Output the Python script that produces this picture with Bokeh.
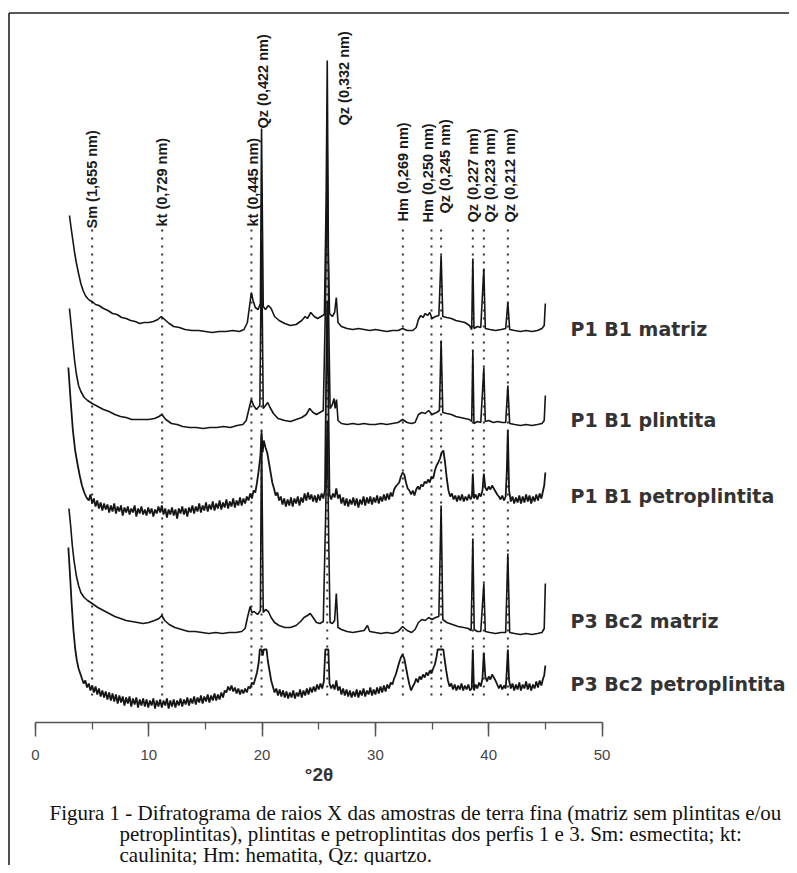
import math
from bokeh.plotting import figure
from bokeh.models import Range1d, LinearAxis, SingleIntervalTicker
from bokeh.core.properties import value
from bokeh.embed import file_html
from bokeh.resources import INLINE

# ---------------- data ----------------
PEAK_LABELS = ["Sm (1,655 nm)", "kt (0,729 nm)", "kt (0,445 nm)", "Qz (0,422 nm)",
               "Qz (0,332 nm)", "Hm (0,269 nm)", "Hm (0,250 nm)", "Qz (0,245 nm)",
               "Qz (0,227 nm)", "Qz (0,223 nm)", "Qz (0,212 nm)"]
PEAK_2THETA = [5.0, 11.18, 19.06, 19.95, 25.75, 32.42, 34.95, 35.8, 38.6, 39.57, 41.69]

SAMPLES = ["P1 B1 matriz", "P1 B1 plintita", "P1 B1 petroplintita",
           "P3 Bc2 matriz", "P3 Bc2 petroplintita"]

T1_X = [3.0, 3.15, 3.3, 3.45, 3.6, 3.8, 4.0, 4.2, 4.4, 4.6,
        4.8, 5.0, 5.3, 5.6, 6.0, 6.4, 6.8, 7.2, 7.6, 8.0,
        8.4, 8.8, 9.2, 9.6, 10.0, 10.4, 10.8, 11.1, 11.4, 11.8,
        12.2, 12.7, 13.2, 13.8, 14.4, 15.0, 15.6, 16.2, 16.8, 17.4,
        18.0, 18.4, 18.7, 18.9, 19.05, 19.2, 19.4, 19.65, 19.85, 19.95,
        20.1, 20.3, 20.55, 20.8, 21.1, 21.5, 22.0, 22.5, 23.0, 23.5,
        23.8, 24.0, 24.3, 24.6, 24.9, 25.2, 25.5, 25.65, 25.75, 25.85,
        25.95, 26.2, 26.4, 26.55, 26.7, 27.0, 27.5, 28.0, 28.5, 29.0,
        29.5, 30.0, 30.5, 31.0, 31.5, 32.0, 32.4, 32.8, 33.3, 33.6,
        33.8, 34.0, 34.2, 34.4, 34.6, 34.8, 35.0, 35.3, 35.6, 35.8,
        35.95, 36.3, 36.7, 37.1, 37.5, 37.9, 38.3, 38.5, 38.6, 38.7,
        39.0, 39.3, 39.57, 39.7, 40.1, 40.6, 41.1, 41.5, 41.69, 41.85,
        42.3, 42.8, 43.3, 43.8, 44.3, 44.7, 44.9, 45.0]
T1_Y = [125, 112, 100, 88, 78, 67, 57, 50, 45, 42,
        40, 39, 36, 35, 32, 30, 27, 26, 23, 22,
        20, 19, 17, 18, 18, 19, 21, 24, 21, 17,
        14, 13, 11, 10, 10, 9, 8, 9, 9, 10,
        9, 11, 18, 35, 48, 40, 33, 31, 37, 212,
        34, 31, 35, 32, 24, 20, 17, 15, 16, 20,
        24, 22, 28, 24, 22, 24, 26, 140, 280, 90,
        27, 24, 28, 43, 18, 14, 12, 11, 12, 11,
        10, 11, 10, 9, 10, 10, 12, 10, 10, 13,
        21, 25, 23, 27, 25, 28, 22, 24, 25, 85,
        24, 23, 22, 20, 19, 18, 15, 11, 82, 12,
        14, 13, 72, 12, 11, 10, 11, 12, 38, 11,
        10, 9, 10, 9, 10, 12, 15, 37]

T2_X = [3.0, 3.15, 3.3, 3.45, 3.6, 3.8, 4.0, 4.3, 4.6, 5.0,
        5.5, 6.0, 6.5, 7.0, 7.5, 8.0, 8.5, 9.0, 9.5, 10.0,
        10.5, 10.9, 11.15, 11.5, 12.0, 12.5, 13.0, 13.6, 14.2, 14.8,
        15.4, 16.0, 16.6, 17.2, 17.8, 18.3, 18.6, 18.85, 19.05, 19.25,
        19.5, 19.8, 19.95, 20.1, 20.3, 20.5, 20.7, 21.0, 21.4, 22.0,
        22.5, 23.0, 23.5, 23.9, 24.2, 24.5, 24.8, 25.1, 25.4, 25.6,
        25.75, 25.88, 26.0, 26.2, 26.35, 26.45, 26.57, 26.7, 27.0, 27.5,
        28.0, 28.5, 29.0, 29.5, 30.0, 30.5, 31.0, 31.5, 32.0, 32.4,
        32.8, 33.2, 33.5, 33.8, 34.1, 34.4, 34.7, 35.0, 35.4, 35.65,
        35.8, 35.95, 36.3, 36.7, 37.1, 37.5, 37.9, 38.3, 38.5, 38.6,
        38.7, 39.0, 39.3, 39.57, 39.7, 40.0, 40.4, 40.8, 41.2, 41.5,
        41.69, 41.85, 42.3, 42.8, 43.3, 43.8, 44.3, 44.7, 44.9, 45.0]
T2_Y = [122, 105, 87, 70, 57, 45, 39, 33, 30, 27,
        24, 21, 19, 16, 14, 13, 11, 11, 11, 11,
        12, 14, 16, 11, 7, 6, 4, 3, 3, 2,
        3, 3, 4, 3, 5, 6, 10, 22, 31, 25,
        21, 25, 190, 22, 25, 28, 23, 17, 12, 10,
        9, 11, 13, 16, 22, 18, 16, 18, 20, 130,
        280, 110, 22, 26, 32, 22, 31, 10, 7, 6,
        7, 6, 7, 6, 6, 7, 6, 7, 8, 11,
        8, 7, 8, 16, 18, 17, 20, 16, 18, 20,
        90, 18, 17, 16, 14, 13, 12, 11, 9, 80,
        7, 9, 8, 63, 9, 10, 8, 9, 8, 8,
        45, 7, 6, 5, 6, 5, 6, 7, 10, 35]

T3_X = [2.9, 3.1, 3.3, 3.5, 3.7, 3.9, 4.1, 4.3, 4.5, 4.7,
        4.85, 5.0, 5.15, 5.3, 5.45, 5.6, 5.75, 5.9, 6.05, 6.2,
        6.35, 6.5, 6.65, 6.8, 6.95, 7.1, 7.25, 7.4, 7.55, 7.7,
        7.85, 8.0, 8.15, 8.3, 8.45, 8.6, 8.75, 8.9, 9.05, 9.2,
        9.35, 9.5, 9.65, 9.8, 9.95, 10.1, 10.25, 10.4, 10.55, 10.7,
        10.85, 11.0, 11.15, 11.3, 11.45, 11.6, 11.75, 11.9, 12.05, 12.2,
        12.35, 12.5, 12.65, 12.8, 12.95, 13.1, 13.25, 13.4, 13.55, 13.7,
        13.85, 14.0, 14.15, 14.3, 14.45, 14.6, 14.75, 14.9, 15.05, 15.2,
        15.35, 15.5, 15.65, 15.8, 15.95, 16.1, 16.25, 16.4, 16.55, 16.7,
        16.85, 17.0, 17.15, 17.3, 17.45, 17.6, 17.75, 17.9, 18.05, 18.2,
        18.35, 18.5, 18.65, 18.8, 18.95, 19.1, 19.25, 19.4, 19.55, 19.7,
        19.85, 19.95, 20.05, 20.15, 20.3, 20.45, 20.6, 20.75, 20.9, 21.05,
        21.2, 21.35, 21.5, 21.65, 21.8, 21.95, 22.1, 22.25, 22.4, 22.55,
        22.7, 22.85, 23.0, 23.15, 23.3, 23.45, 23.6, 23.75, 23.9, 24.05,
        24.2, 24.35, 24.5, 24.65, 24.8, 24.95, 25.1, 25.25, 25.4, 25.55,
        25.65, 25.75, 25.85, 25.95, 26.1, 26.25, 26.4, 26.55, 26.7, 26.85,
        27.0, 27.15, 27.3, 27.45, 27.6, 27.75, 27.9, 28.05, 28.2, 28.35,
        28.5, 28.65, 28.8, 28.95, 29.1, 29.25, 29.4, 29.55, 29.7, 29.85,
        30.0, 30.15, 30.3, 30.45, 30.6, 30.75, 30.9, 31.05, 31.2, 31.35,
        31.5, 31.65, 31.8, 31.95, 32.1, 32.25, 32.4, 32.55, 32.7, 32.85,
        33.0, 33.15, 33.3, 33.45, 33.6, 33.75, 33.9, 34.05, 34.2, 34.35,
        34.5, 34.65, 34.8, 34.95, 35.1, 35.25, 35.4, 35.55, 35.7, 35.85,
        36.0, 36.15, 36.3, 36.45, 36.6, 36.75, 36.9, 37.05, 37.2, 37.35,
        37.5, 37.65, 37.8, 37.95, 38.1, 38.25, 38.4, 38.52, 38.6, 38.7,
        38.85, 39.0, 39.15, 39.3, 39.45, 39.57, 39.7, 39.85, 40.0, 40.15,
        40.3, 40.45, 40.6, 40.75, 40.9, 41.05, 41.2, 41.35, 41.5, 41.6,
        41.69, 41.8, 41.95, 42.1, 42.25, 42.4, 42.55, 42.7, 42.85, 43.0,
        43.15, 43.3, 43.45, 43.6, 43.75, 43.9, 44.05, 44.2, 44.35, 44.5,
        44.65, 44.8, 44.9, 45.0]
T3_Y = [153, 120, 90, 70, 57, 45, 35, 28, 23, 20,
        26, 17, 22, 14, 20, 12, 18, 10, 17, 11,
        16, 8, 15, 9, 17, 7, 14, 9, 15, 5,
        13, 8, 14, 6, 12, 8, 15, 4, 12, 7,
        14, 6, 11, 5, 13, 7, 12, 4, 11, 7,
        14, 8, 15, 6, 12, 3, 11, 6, 13, 5,
        11, 2, 12, 7, 14, 6, 12, 4, 13, 8,
        15, 7, 14, 9, 17, 8, 15, 10, 18, 9,
        16, 11, 19, 10, 17, 12, 20, 11, 18, 13,
        21, 12, 19, 14, 22, 13, 20, 15, 23, 15,
        22, 17, 24, 20, 27, 22, 30, 28, 38, 50,
        65, 87, 68, 80, 73, 68, 58, 48, 38, 32,
        25, 28, 20, 24, 16, 22, 14, 21, 15, 23,
        14, 22, 17, 24, 15, 23, 18, 27, 20, 28,
        21, 26, 19, 25, 18, 26, 20, 27, 22, 30,
        140, 220, 120, 26, 21, 27, 23, 32, 22, 26,
        17, 23, 15, 22, 14, 21, 16, 23, 15, 22,
        13, 21, 16, 24, 15, 23, 17, 24, 16, 23,
        18, 25, 17, 24, 19, 26, 20, 27, 21, 28,
        24, 31, 34, 36, 38, 44, 48, 46, 38, 32,
        30, 26, 30, 25, 31, 34, 31, 36, 34, 39,
        37, 41, 38, 44, 42, 50, 55, 58, 62, 68,
        70, 58, 42, 30, 24, 27, 21, 25, 19, 25,
        20, 26, 19, 24, 20, 26, 21, 24, 47, 22,
        26, 21, 27, 24, 30, 47, 33, 30, 34, 31,
        35, 32, 29, 26, 24, 21, 25, 20, 24, 50,
        90, 30, 19, 24, 17, 23, 18, 25, 17, 24,
        18, 26, 19, 25, 17, 24, 19, 26, 20, 27,
        22, 30, 35, 48]

T4_X = [2.95, 3.1, 3.25, 3.4, 3.6, 3.8, 4.0, 4.3, 4.6, 5.0,
        5.5, 6.0, 6.5, 7.0, 7.5, 8.0, 8.5, 9.0, 9.5, 10.0,
        10.5, 10.9, 11.15, 11.4, 11.8, 12.3, 12.9, 13.5, 14.1, 14.7,
        15.3, 15.9, 16.5, 17.1, 17.7, 18.2, 18.5, 18.75, 18.95, 19.1,
        19.3, 19.6, 19.85, 19.95, 20.1, 20.3, 20.55, 20.8, 21.1, 21.5,
        22.0, 22.5, 23.0, 23.4, 23.7, 24.0, 24.25, 24.5, 24.8, 25.1,
        25.4, 25.6, 25.75, 25.88, 26.0, 26.2, 26.4, 26.55, 26.7, 27.0,
        27.5, 28.0, 28.5, 29.0, 29.3, 29.5, 30.0, 30.5, 31.0, 31.5,
        32.0, 32.4, 32.8, 33.2, 33.5, 33.8, 34.1, 34.4, 34.7, 35.0,
        35.3, 35.6, 35.8, 35.95, 36.3, 36.8, 37.3, 37.8, 38.2, 38.45,
        38.6, 38.72, 39.0, 39.3, 39.57, 39.7, 40.1, 40.6, 41.1, 41.5,
        41.69, 41.85, 42.3, 42.8, 43.3, 43.8, 44.3, 44.7, 44.9, 45.0]
T4_Y = [132, 115, 95, 80, 65, 55, 48, 43, 40, 37,
        33, 30, 27, 24, 22, 20, 19, 18, 17, 18,
        20, 22, 25, 20, 16, 13, 11, 9, 9, 8,
        7, 8, 7, 8, 8, 9, 12, 25, 34, 28,
        29, 26, 30, 210, 28, 31, 29, 23, 18, 15,
        13, 13, 15, 19, 23, 25, 27, 23, 18, 17,
        19, 120, 220, 100, 18, 17, 20, 47, 13, 11,
        9, 8, 9, 10, 15, 9, 8, 7, 8, 7,
        9, 14, 10, 8, 11, 18, 21, 20, 23, 21,
        23, 24, 135, 21, 18, 16, 14, 13, 12, 10,
        102, 11, 9, 9, 57, 9, 8, 7, 8, 8,
        87, 8, 7, 6, 7, 6, 7, 8, 12, 57]

T5_X = [2.9, 3.05, 3.2, 3.35, 3.5, 3.65, 3.8, 3.95, 4.1, 4.25,
        4.4, 4.55, 4.7, 4.85, 5.0, 5.15, 5.3, 5.45, 5.6, 5.75,
        5.9, 6.05, 6.2, 6.35, 6.5, 6.65, 6.8, 6.95, 7.1, 7.25,
        7.4, 7.55, 7.7, 7.85, 8.0, 8.15, 8.3, 8.45, 8.6, 8.75,
        8.9, 9.05, 9.2, 9.35, 9.5, 9.65, 9.8, 9.95, 10.1, 10.25,
        10.4, 10.55, 10.7, 10.85, 11.0, 11.15, 11.3, 11.45, 11.6, 11.75,
        11.9, 12.05, 12.2, 12.35, 12.5, 12.65, 12.8, 12.95, 13.1, 13.25,
        13.4, 13.55, 13.7, 13.85, 14.0, 14.15, 14.3, 14.45, 14.6, 14.75,
        14.9, 15.05, 15.2, 15.35, 15.5, 15.65, 15.8, 15.95, 16.1, 16.25,
        16.4, 16.55, 16.7, 16.85, 17.0, 17.15, 17.3, 17.45, 17.6, 17.75,
        17.9, 18.05, 18.2, 18.35, 18.5, 18.65, 18.8, 18.95, 19.1, 19.25,
        19.4, 19.55, 19.7, 19.8, 19.95, 20.05, 20.15, 20.4, 20.5, 20.65,
        20.8, 20.95, 21.1, 21.25, 21.4, 21.55, 21.7, 21.85, 22.0, 22.15,
        22.3, 22.45, 22.6, 22.75, 22.9, 23.05, 23.2, 23.35, 23.5, 23.65,
        23.8, 23.95, 24.1, 24.25, 24.4, 24.55, 24.7, 24.85, 25.0, 25.15,
        25.3, 25.45, 25.58, 25.85, 25.95, 26.1, 26.25, 26.4, 26.55, 26.7,
        26.85, 27.0, 27.15, 27.3, 27.45, 27.6, 27.75, 27.9, 28.05, 28.2,
        28.35, 28.5, 28.65, 28.8, 28.95, 29.1, 29.25, 29.4, 29.55, 29.7,
        29.85, 30.0, 30.15, 30.3, 30.45, 30.6, 30.75, 30.9, 31.05, 31.2,
        31.35, 31.5, 31.65, 31.8, 31.95, 32.1, 32.25, 32.4, 32.55, 32.7,
        32.85, 33.0, 33.15, 33.3, 33.45, 33.6, 33.75, 33.9, 34.05, 34.2,
        34.35, 34.5, 34.65, 34.8, 34.95, 35.1, 35.25, 35.4, 35.5, 36.0,
        36.1, 36.25, 36.4, 36.55, 36.7, 36.85, 37.0, 37.15, 37.3, 37.45,
        37.6, 37.75, 37.9, 38.05, 38.2, 38.35, 38.5, 38.6, 38.7, 38.85,
        39.0, 39.15, 39.3, 39.45, 39.57, 39.7, 39.85, 40.0, 40.15, 40.3,
        40.45, 40.6, 40.75, 40.9, 41.05, 41.2, 41.35, 41.5, 41.6, 41.69,
        41.8, 41.95, 42.1, 42.25, 42.4, 42.55, 42.7, 42.85, 43.0, 43.15,
        43.3, 43.45, 43.6, 43.75, 43.9, 44.05, 44.2, 44.35, 44.5, 44.65,
        44.8, 44.9, 45.0]
T5_Y = [168, 140, 110, 85, 67, 55, 47, 42, 37, 32,
        35, 28, 32, 25, 30, 23, 29, 21, 27, 19,
        25, 18, 24, 16, 23, 15, 22, 14, 21, 12,
        20, 13, 19, 10, 18, 12, 19, 9, 17, 11,
        18, 8, 16, 10, 17, 9, 16, 8, 15, 10,
        17, 7, 15, 9, 16, 8, 15, 10, 17, 7,
        15, 9, 16, 8, 15, 10, 17, 9, 16, 11,
        18, 10, 17, 12, 19, 11, 18, 13, 20, 12,
        19, 14, 21, 13, 20, 15, 22, 15, 21, 16,
        23, 18, 25, 23, 29, 25, 30, 24, 28, 22,
        27, 21, 26, 22, 27, 23, 29, 27, 33, 31,
        37, 43, 53, 66, 66, 60, 66, 66, 55, 45,
        35, 29, 23, 27, 20, 26, 19, 25, 18, 24,
        17, 23, 18, 25, 17, 23, 19, 26, 18, 25,
        20, 27, 21, 28, 23, 29, 24, 31, 26, 32,
        27, 34, 66, 66, 32, 27, 31, 26, 35, 25,
        29, 21, 27, 20, 26, 19, 25, 18, 24, 19,
        26, 18, 25, 20, 27, 19, 25, 21, 28, 20,
        26, 21, 28, 22, 29, 23, 30, 24, 31, 27,
        33, 31, 37, 41, 47, 53, 58, 61, 57, 48,
        39, 31, 25, 29, 32, 37, 33, 39, 36, 41,
        38, 43, 40, 45, 42, 47, 51, 59, 66, 66,
        57, 45, 35, 29, 32, 26, 31, 25, 30, 26,
        32, 25, 30, 26, 31, 25, 27, 66, 25, 31,
        27, 33, 29, 37, 63, 39, 34, 39, 36, 41,
        38, 35, 31, 27, 31, 26, 30, 27, 45, 66,
        35, 27, 32, 25, 31, 26, 33, 25, 31, 27,
        34, 26, 32, 25, 31, 27, 34, 28, 35, 30,
        37, 40, 50]

CAPTION = ["Figura 1 - Difratograma de raios X das amostras de terra fina (matriz sem plintitas e/ou",
           "petroplintitas), plintitas e petroplintitas dos perfis 1 e 3. Sm: esmectita; kt:",
           "caulinita; Hm: hematita, Qz: quartzo."]

# ---------------- layout helpers (canvas pixels) ----------------
W, H = 789, 865
X0 = 35.0      # px of 2theta = 0
PXU = 11.33    # px per degree


def dx(px):
    return (px - X0) / PXU


def dy(py):
    return H - py


OFFSETS = [dy(340), dy(430), dy(520), dy(640), dy(715)]
TRACES = [(T1_X, T1_Y), (T2_X, T2_Y), (T3_X, T3_Y), (T4_X, T4_Y), (T5_X, T5_Y)]
TRACE_WIDTHS = [1.6, 1.6, 1.8, 1.6, 1.8]

p = figure(width=W, height=H, x_range=Range1d(dx(0), dx(W)), y_range=Range1d(0, H),
           output_backend="svg", toolbar_location=None, min_border=0,
           x_axis_location=None, y_axis_location=None, outline_line_color=None)
p.grid.visible = False
p.background_fill_color = "white"

# frame lines (top and left)
p.line([dx(8.5), dx(W)], [dy(12.5), dy(12.5)], line_color="#222222", line_width=1.6)
p.line([dx(8.5), dx(8.5)], [dy(12.5), dy(H)], line_color="#222222", line_width=1.6)

# dotted reference lines
p.segment(x0=PEAK_2THETA, y0=[dy(229)] * len(PEAK_2THETA), x1=PEAK_2THETA,
          y1=[dy(700)] * len(PEAK_2THETA), line_color="#333333", line_width=2, line_dash="2 6")

# traces
for (xs, ys), off, lw in zip(TRACES, OFFSETS, TRACE_WIDTHS):
    p.line(xs, [off + v for v in ys], line_color="#151515", line_width=lw)

# peak labels
label_start = [228, 226, 226, 128, 125, 221, 222, 213, 222, 222, 222]
label_shift = [0, 0, 2, 1, 17, 0, -3, 4, 0, 6, 2]
p.text(x=[t + s / PXU for t, s in zip(PEAK_2THETA, label_shift)],
       y=[dy(v) for v in label_start], text=PEAK_LABELS, angle=math.pi / 2,
       text_align="left", text_baseline="middle",
       text_font=value("Liberation Sans"), text_font_style="bold",
       text_font_size="14.5px", text_color="#1a1a1a")

# sample labels
p.text(x=[dx(570)] * len(SAMPLES), y=[dy(v) for v in [328, 419, 495, 620, 683]],
       text=SAMPLES, text_align="left", text_baseline="middle",
       text_font=value("DejaVu Sans"), text_font_style="bold",
       text_font_size="19px", text_color="#333333")

# caption
p.text(x=[dx(49), dx(119), dx(119)], y=[dy(812), dy(833), dy(854)], text=CAPTION,
       text_align="left", text_baseline="alphabetic",
       text_font=value("Liberation Serif"), text_font_size="21px", text_color="#111111")

# x axis
ax = LinearAxis(fixed_location=dy(722), bounds=(0, 50),
                ticker=SingleIntervalTicker(interval=10, num_minor_ticks=2),
                axis_label="°2θ")
ax.axis_line_color = "#555555"
ax.axis_line_width = 1.5
ax.major_tick_line_color = "#555555"
ax.major_tick_line_width = 1.5
ax.major_tick_in = 0
ax.major_tick_out = 14
ax.minor_tick_line_color = "#555555"
ax.minor_tick_line_width = 1.3
ax.minor_tick_in = 0
ax.minor_tick_out = 7
ax.major_label_text_font = "Liberation Sans"
ax.major_label_text_font_size = "15px"
ax.major_label_text_color = "#444444"
ax.major_label_standoff = 13
ax.axis_label_text_font = "Liberation Sans"
ax.axis_label_text_font_style = "bold"
ax.axis_label_text_font_size = "19px"
ax.axis_label_text_color = "#333333"
ax.axis_label_standoff = 1
p.add_layout(ax, "below")

open("out.html", "w").write(file_html(p, INLINE))
